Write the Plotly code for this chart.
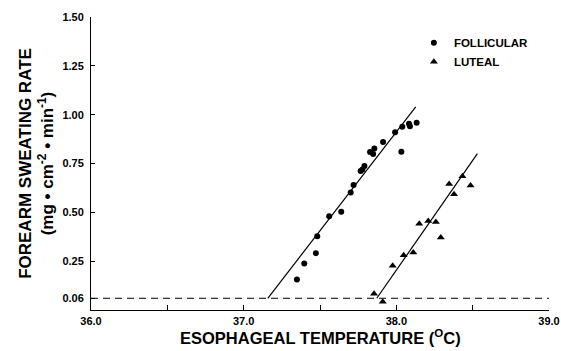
import plotly.graph_objects as go

# ---- data ----
foll_x = [37.349, 37.397, 37.473, 37.482, 37.560, 37.639, 37.701, 37.720, 37.766,
          37.778, 37.791, 37.828, 37.848, 37.856, 37.913, 37.992, 38.033, 38.039,
          38.083, 38.089, 38.133]
foll_y = [0.156, 0.238, 0.291, 0.378, 0.480, 0.503, 0.601, 0.640, 0.712,
          0.719, 0.737, 0.809, 0.798, 0.827, 0.860, 0.910, 0.810, 0.938,
          0.953, 0.941, 0.958]

lut_x = [37.854, 37.911, 37.976, 38.048, 38.111, 38.150, 38.209, 38.259, 38.291,
         38.346, 38.378, 38.433, 38.486]
lut_y = [0.083, 0.042, 0.227, 0.280, 0.294, 0.442, 0.456, 0.451, 0.371,
         0.645, 0.593, 0.685, 0.637]

foll_fit_x = [37.158, 38.127]
foll_fit_y = [0.06, 1.040]
lut_fit_x = [37.872, 38.531]
lut_fit_y = [0.06, 0.801]

threshold = 0.06
x_limits = [36.0, 39.0]
y_ticks = [0.06, 0.25, 0.50, 0.75, 1.00, 1.25, 1.50]

FONT = "Liberation Sans"

fig = go.Figure()

# threshold dashed line
fig.add_trace(go.Scatter(x=x_limits, y=[threshold, threshold], mode="lines",
                         line=dict(color="black", width=1, dash="7px,5px"),
                         showlegend=False, hoverinfo="skip"))
# regression lines
fig.add_trace(go.Scatter(x=foll_fit_x, y=foll_fit_y, mode="lines",
                         line=dict(color="black", width=1.2), showlegend=False))
fig.add_trace(go.Scatter(x=lut_fit_x, y=lut_fit_y, mode="lines",
                         line=dict(color="black", width=1.2), showlegend=False))
# points
fig.add_trace(go.Scatter(x=foll_x, y=foll_y, mode="markers", name="FOLLICULAR",
                         marker=dict(symbol="circle", size=6, color="black")))
fig.add_trace(go.Scatter(x=lut_x, y=lut_y, mode="markers", name="LUTEAL",
                         marker=dict(symbol="triangle-up", size=7, color="black")))

fig.update_layout(
    width=561, height=351,
    margin=dict(l=91, r=12, t=17, b=41, autoexpand=False),
    paper_bgcolor="white", plot_bgcolor="white",
    font=dict(family=FONT, color="black", size=11, weight="bold"),
    legend=dict(x=0.705, y=0.962, xanchor="left", yanchor="top",
                bgcolor="rgba(0,0,0,0)", font=dict(size=11.5, weight="bold"),
                tracegroupgap=0),
    showlegend=True,
    annotations=[dict(text="ESOPHAGEAL TEMPERATURE (<sup>O</sup>C)",
                      xref="paper", yref="paper", x=0.5, y=-0.092,
                      xanchor="center", yanchor="middle", showarrow=False,
                      font=dict(size=16.5, weight="bold"))],
)

fig.update_xaxes(
    range=x_limits, showgrid=False, zeroline=False, automargin=False,
    showline=True, linecolor="black", linewidth=1,
    ticks="inside", ticklen=5, tickcolor="black", tickwidth=1,
    tick0=36.0, dtick=1.0, tickformat=".1f",
    minor=dict(ticks="inside", dtick=0.5, ticklen=5, tickcolor="black"),
    tickfont=dict(size=11, weight="bold"), ticklabelstandoff=1,
)
fig.update_yaxes(
    range=[0, 1.5], showgrid=False, zeroline=False, automargin=False,
    showline=True, linecolor="black", linewidth=1,
    ticks="inside", ticklen=4, tickcolor="black", tickwidth=1,
    tickvals=y_ticks, tickformat=".2f",
    tickfont=dict(size=11, weight="bold"), ticklabelstandoff=4,
    title=dict(text="FOREARM SWEATING RATE<br>(mg \u2022 cm<sup>-2</sup> \u2022 min<sup>-1</sup>)",
               font=dict(size=17, weight="bold"), standoff=4),
)

fig.write_html("out.html",
               config={"displayModeBar": False},
               post_script="document.body.style.margin='0';document.body.style.overflow='hidden';")
